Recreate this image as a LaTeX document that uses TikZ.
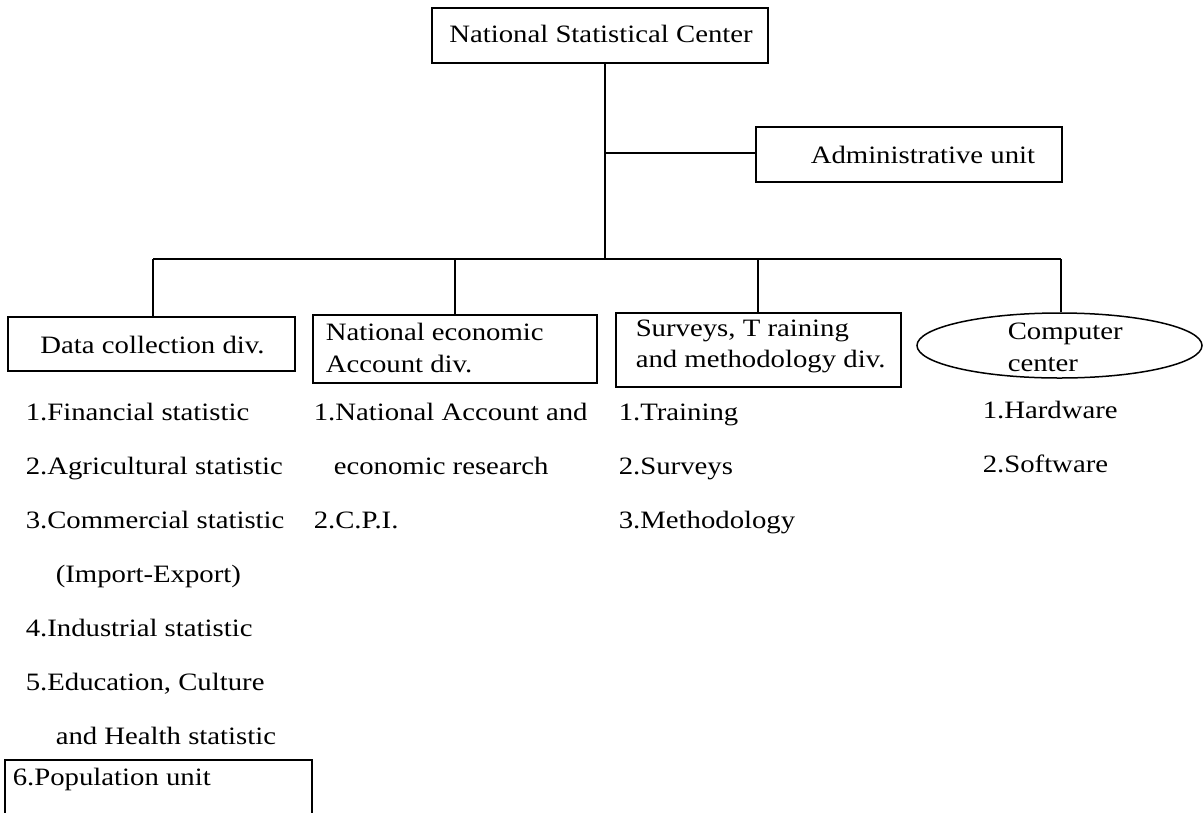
\documentclass[tikz,border=0pt]{standalone}
\usepackage{fontspec}
\setmainfont{Liberation Serif}[FakeStretch=1.15]
\usetikzlibrary{shapes.geometric}
\begin{document}
\begin{tikzpicture}[x=1pt,y=-1pt,
  line width=1.5pt,
  unitbox/.style={draw, rectangle, inner sep=0pt, line width=1.5pt},
  unitoval/.style={draw, ellipse, inner sep=0pt, line width=1.5pt},
  txt/.style={anchor=base west, inner sep=0pt, font=\fontsize{25}{30}\selectfont},
  ctxt/.style={anchor=base, inner sep=0pt, font=\fontsize{25}{30}\selectfont}]
\useasboundingbox (0,0) rectangle (1203,812);
\clip (0,0) rectangle (1203,812);

% head office and administrative unit
\node[unitbox, minimum width=336pt, minimum height=55pt] (nsc) at (600,35.5) {};
\node[ctxt] (nsct) at (601,42) {National Statistical Center};
\node[unitbox, minimum width=306pt, minimum height=55pt] (adm) at (909,154.5) {};
\node[txt] (admt) at (810,163) {Administrative unit};

% divisions
\node[unitbox, minimum width=287pt, minimum height=54pt] (dcd) at (151.5,344) {};
\node[ctxt] (dcdt) at (152.5,353) {Data collection div.};

\node[unitbox, minimum width=284pt, minimum height=68pt] (nea) at (455,349) {};
\node[txt] (neat1) at (325,340) {National economic};
\node[txt] (neat2) at (325,372) {Account div.};

\node[unitbox, minimum width=285pt, minimum height=74pt] (stm) at (758.5,350) {};
\node[txt] (stmt1) at (635,336) {Surveys, T raining};
\node[txt] (stmt2) at (635,367) {and methodology div.};

\node[unitoval, minimum width=285pt, minimum height=65pt] (cc) at (1059.5,345.5) {};
\node[txt] (cct1) at (1007,339) {Computer};
\node[txt] (cct2) at (1007,371) {center};

% connectors
\coordinate (ja) at (605,153);
\coordinate (jb) at (605,259);
\coordinate (b1) at (153,259);
\coordinate (b2) at (455,259);
\coordinate (b3) at (758,259);
\coordinate (b4) at (1061,259);
\draw (nsc.south -| ja) -- (jb);
\draw (ja) -- (ja -| adm.west);
\draw (b1) -- (b4);
\draw (b1) -- (b1 |- dcd.north);
\draw (b2) -- (b2 |- nea.north);
\draw (b3) -- (b3 |- stm.north);
\draw (b4) -- (b4 |- cc.north);

% sections of the data collection division
\node[txt] (d1) at (25,420) {1.Financial statistic};
\node[txt] (d2) at (25,474) {2.Agricultural statistic};
\node[txt] (d3) at (25,528) {3.Commercial statistic};
\node[txt] (d3b) at (55,582) {(Import-Export)};
\node[txt] (d4) at (25,636) {4.Industrial statistic};
\node[txt] (d5) at (25,690) {5.Education, Culture};
\node[txt] (d5b) at (55,744) {and Health statistic};
\node[unitbox, minimum width=307pt, minimum height=80pt] (pop) at (158.5,800) {};
\node[txt] (popt) at (12,785) {6.Population unit};

% sections of the national economic account division
\node[txt] (n1) at (313,420) {1.National Account and};
\node[txt] (n1b) at (333,474) {economic research};
\node[txt] (n2) at (313,528) {2.C.P.I.};

% sections of the surveys division
\node[txt] (s1) at (618,420) {1.Training};
\node[txt] (s2) at (618,474) {2.Surveys};
\node[txt] (s3) at (618,528) {3.Methodology};

% sections of the computer center
\node[txt] (c1) at (982,418) {1.Hardware};
\node[txt] (c2) at (982,472) {2.Software};
\end{tikzpicture}
\end{document}
